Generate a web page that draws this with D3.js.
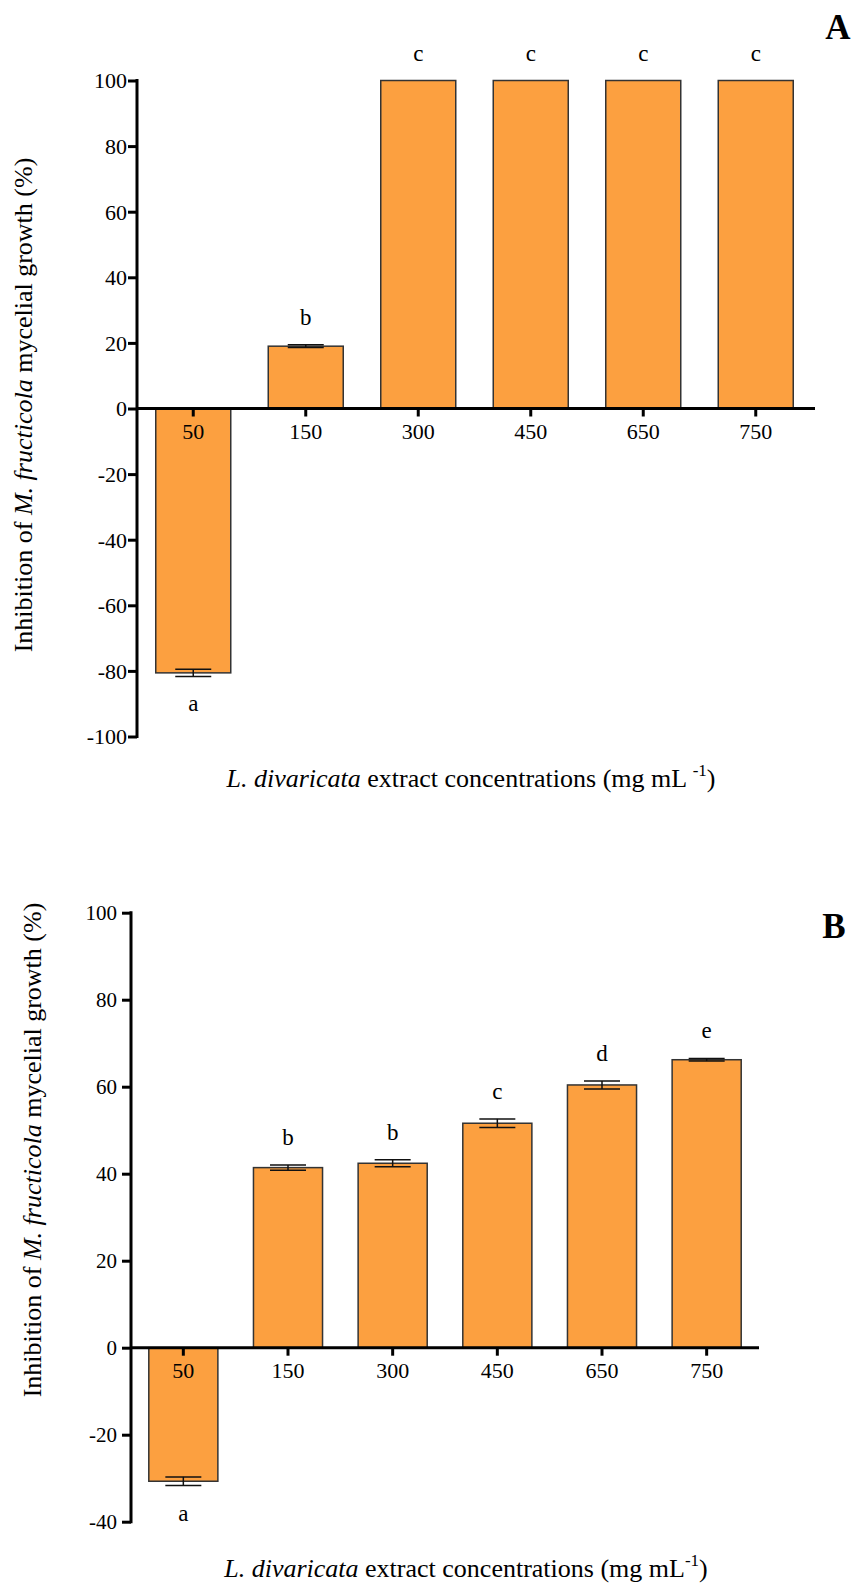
<!DOCTYPE html>
<html>
<head>
<meta charset="utf-8">
<script src="https://cdn.jsdelivr.net/npm/d3@7"></script>
<style>
    body { margin: 0; background: #fff; }
    text { font-family: "Liberation Serif", "Times New Roman", serif; fill: #000; }
</style>
</head>
<body>
<div id="chart"></div>
<script>
// Concentrations (mg mL-1)
const concentrations = ["50", "150", "300", "450", "650", "750"];

// Panel A
const inhibitionA = [-80.6, 19.0, 100, 100, 100, 100];
const errorA = [1.1, 0.4, 0, 0, 0, 0];
const lettersA = ["a", "b", "c", "c", "c", "c"];
const ticksA = [-100, -80, -60, -40, -20, 0, 20, 40, 60, 80, 100];

// Panel B
const inhibitionB = [-30.7, 41.4, 42.4, 51.6, 60.4, 66.2];
const errorB = [1.0, 0.6, 0.8, 1.0, 0.9, 0.3];
const lettersB = ["a", "b", "b", "c", "d", "e"];
const ticksB = [-40, -20, 0, 20, 40, 60, 80, 100];

const svg = d3.select("#chart")
    .append("svg")
    .attr("width", 855)
    .attr("height", 1583);

function drawPanel(p) {
    const data = concentrations.map((c, i) => ({ c: c, v: p.values[i], e: p.errors[i], l: p.letters[i] }));

    const x = d3.scaleBand()
        .domain(concentrations)
        .range([p.left, p.right])
        .paddingInner(p.pad)
        .paddingOuter(p.pad / 2);

    const y = d3.scaleLinear()
        .domain([p.ticks[0], p.ticks[p.ticks.length - 1]])
        .range([p.bottom, p.top]);

    const g = svg.append("g");

    // Bars
    g.selectAll(".bar")
        .data(data)
        .enter().append("rect")
        .attr("class", "bar")
        .attr("x", d => x(d.c))
        .attr("y", d => y(Math.max(0, d.v)))
        .attr("width", x.bandwidth())
        .attr("height", d => Math.abs(y(d.v) - y(0)))
        .attr("fill", "#fca040")
        .attr("stroke", "#333")
        .attr("stroke-width", 1.5);

    // Error bars
    const eb = g.selectAll(".err")
        .data(data.filter(d => d.e > 0))
        .enter().append("g")
        .attr("class", "err")
        .attr("stroke", "#111")
        .attr("stroke-width", 1.5);
    const cx = d => x(d.c) + x.bandwidth() / 2;
    eb.append("line")
        .attr("x1", cx).attr("x2", cx)
        .attr("y1", d => y(d.v - d.e)).attr("y2", d => y(d.v + d.e));
    eb.append("line")
        .attr("x1", d => cx(d) - 18).attr("x2", d => cx(d) + 18)
        .attr("y1", d => y(d.v + d.e)).attr("y2", d => y(d.v + d.e));
    eb.append("line")
        .attr("x1", d => cx(d) - 18).attr("x2", d => cx(d) + 18)
        .attr("y1", d => y(d.v - d.e)).attr("y2", d => y(d.v - d.e));

    // Significance letters
    g.selectAll(".letter")
        .data(data)
        .enter().append("text")
        .attr("class", "letter")
        .attr("x", cx)
        .attr("y", d => d.v >= 0 ? y(d.v + d.e) - 20 : y(d.v - d.e) + 35)
        .attr("text-anchor", "middle")
        .style("font-size", "23px")
        .text(d => d.l);

    // Y axis
    const yAxis = g.append("g")
        .attr("transform", `translate(${p.left},0)`)
        .call(d3.axisLeft(y).tickValues(p.ticks).tickFormat(d => String(d))
            .tickSize(9).tickPadding(p.tickPad).tickSizeOuter(0));
    yAxis.select(".domain").attr("stroke", "#000").attr("stroke-width", 3)
        .attr("d", `M0,${p.bottom + 1.5}V${p.top - 1.5}`);
    yAxis.selectAll(".tick line").attr("stroke", "#000").attr("stroke-width", 3);
    yAxis.selectAll(".tick text")
        .style("font-family", "Liberation Serif, serif")
        .style("font-size", p.yFont + "px")
        .attr("dy", "0.34em");

    // X axis at zero
    const xAxis = g.append("g")
        .attr("transform", `translate(0,${y(0)})`)
        .call(d3.axisBottom(x).tickSize(8).tickPadding(7).tickSizeOuter(0));
    xAxis.select(".domain").attr("stroke", "#000").attr("stroke-width", 3)
        .attr("d", `M${p.left},0H${p.axisEnd}`);
    xAxis.selectAll(".tick line").attr("stroke", "#000").attr("stroke-width", 3);
    xAxis.selectAll(".tick text")
        .style("font-family", "Liberation Serif, serif")
        .style("font-size", "22px");

    // Y axis title
    const yt = g.append("text")
        .attr("transform", `translate(${p.yTitleX},${p.yTitleY}) rotate(-90)`)
        .attr("text-anchor", "middle")
        .style("font-size", "26px");
    yt.append("tspan").text("Inhibition of ");
    yt.append("tspan").style("font-style", "italic").text("M. fructicola");
    yt.append("tspan").text(" mycelial growth (%)");

    // X axis title
    const xt = g.append("text")
        .attr("x", p.xTitleX)
        .attr("y", p.xTitleY)
        .attr("text-anchor", "middle")
        .style("font-size", "26px");
    xt.append("tspan").style("font-style", "italic").text("L. divaricata");
    xt.append("tspan").text(" extract concentrations (mg mL" + p.supGap);
    xt.append("tspan").attr("dy", -11).style("font-size", "17px").text("-1");
    xt.append("tspan").attr("dy", 11).text(")");

    // Panel label
    g.append("text")
        .attr("x", p.labelX)
        .attr("y", p.labelY)
        .attr("text-anchor", "middle")
        .style("font-size", "35px")
        .style("font-weight", "bold")
        .text(p.label);
}

drawPanel({
    values: inhibitionA, errors: errorA, letters: lettersA, ticks: ticksA,
    left: 137, right: 812, axisEnd: 815, pad: 1 / 3,
    top: 80.5, bottom: 736.5, tickPad: 1, yFont: 22,
    yTitleX: 32, yTitleY: 405, xTitleX: 471, xTitleY: 787, supGap: " ",
    label: "A", labelX: 838, labelY: 39
});

drawPanel({
    values: inhibitionB, errors: errorB, letters: lettersB, ticks: ticksB,
    left: 131, right: 759, axisEnd: 759, pad: 0.34,
    top: 912.7, bottom: 1521.7, tickPad: 5, yFont: 21,
    yTitleX: 41, yTitleY: 1150, xTitleX: 466, xTitleY: 1577, supGap: "",
    label: "B", labelX: 834, labelY: 938
});
</script>
</body>
</html>
